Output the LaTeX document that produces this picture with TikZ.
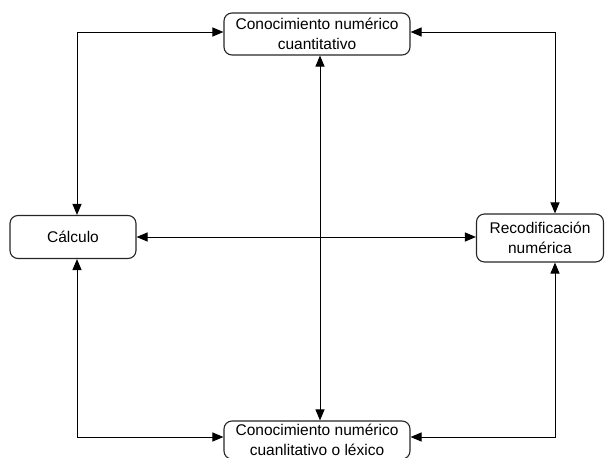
\documentclass[tikz,border=0pt]{standalone}
\usepackage{fontspec}
\setmainfont{Liberation Sans}
\usetikzlibrary{arrows.meta}
\begin{document}
\begin{tikzpicture}[x=1pt,y=-1pt,
  box/.style={draw=black!85,line width=1.1pt,rounded corners=8pt,align=center,
    font=\fontsize{15.5}{20}\selectfont,inner sep=0pt,anchor=center},
  conn/.style={line width=1pt,{Triangle[length=11pt,width=9pt]}-{Triangle[length=11pt,width=9pt]}}]
\useasboundingbox (0,0) rectangle (611,458);
\clip (0,0) rectangle (611,458);
\node[box,minimum width=186pt,minimum height=42pt] (top) at (317,34) {Conocimiento numérico\\cuantitativo};
\node[box,minimum width=186pt,minimum height=38pt] (bot) at (317,440) {Conocimiento numérico\\cuanlitativo o léxico};
\node[box,minimum width=126pt,minimum height=43pt] (calc) at (73,237) {Cálculo};
\node[box,minimum width=127pt,minimum height=48pt] (rec) at (540,238) {Recodificación\\numérica};
\coordinate (tl) at (77,32);
\coordinate (tr) at (555,32);
\coordinate (bl) at (77,437);
\coordinate (br) at (555,437);
\draw[conn] (calc.north -| tl) -- (tl) -- (tl -| top.west);
\draw[conn] (top.east |- tr) -- (tr) -- (tr |- rec.north);
\draw[conn] (calc.south -| bl) -- (bl) -- (bl -| bot.west);
\draw[conn] (bot.east |- br) -- (br) -- (br |- rec.south);
\draw[conn] (top.south -| 320,0) -- (bot.north -| 320,0);
\draw[conn] (calc.east) -- (calc.east -| rec.west);
\end{tikzpicture}
\end{document}
